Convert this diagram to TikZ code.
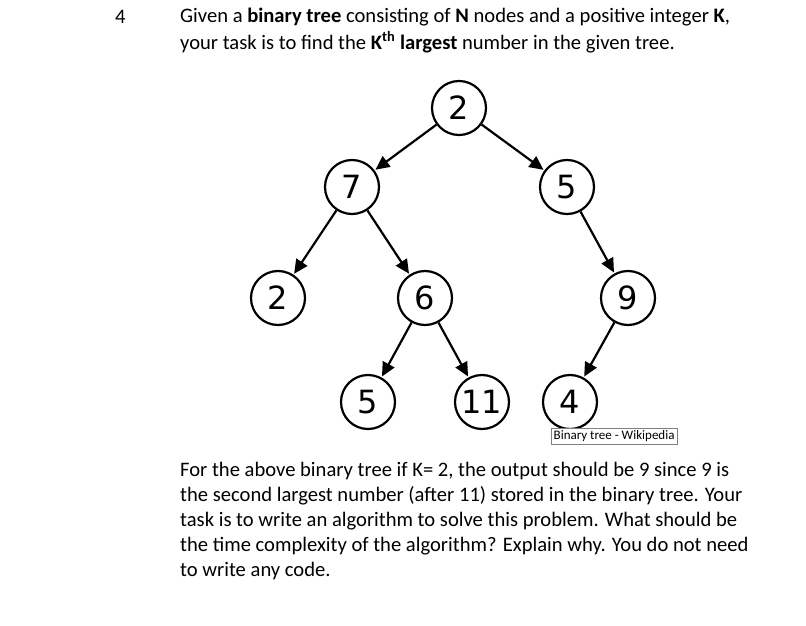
\documentclass[tikz,border=0pt]{standalone}
\usepackage{fontspec}
\setmainfont{Carlito}
\newfontfamily\treefont{DejaVu Sans}
\usetikzlibrary{arrows.meta}
\begin{document}
\begin{tikzpicture}[x=1pt,y=-1pt,
  tn/.style={circle,draw,line width=2.2pt,minimum size=54pt,inner sep=0pt,font=\treefont\fontsize{32}{32}\selectfont},
  ed/.style={line width=2.2pt,-{Triangle[length=14pt,width=13pt]},shorten >=1pt},
  tx/.style={anchor=west,inner sep=0pt,font=\fontsize{20.6}{20.6}\selectfont}]
\useasboundingbox (0,0) rectangle (806,626);
\node[tx] (num) at (115,17) {4};
\node[tx] (l1) at (180,17) {Given a \textbf{binary tree} consisting of \textbf{N} nodes and a positive integer \textbf{K},};
\node[tx] (l2) at (180,42) {your task is to find the \textbf{K\textsuperscript{th} largest} number in the given tree.};
\node[tn] (a) at (459,108) {2};
\node[tn] (b) at (352,187) {7};
\node[tn] (c) at (567,187) {5};
\node[tn] (d) at (278,298) {2};
\node[tn] (e) at (425,298) {6};
\node[tn] (f) at (628,298) {9};
\node[tn] (g) at (368,402) {5};
\node[tn] (h) at (482,402) {11};
\node[tn] (i) at (570,402) {4};
\draw[ed] (a) -- (b);
\draw[ed] (a) -- (c);
\draw[ed] (b) -- (d);
\draw[ed] (b) -- (e);
\draw[ed] (c) -- (f);
\draw[ed] (e) -- (g);
\draw[ed] (e) -- (h);
\draw[ed] (f) -- (i);
\node[draw=gray,fill=white,inner sep=2.5pt,anchor=north west,font=\fontsize{13}{13}\selectfont] (tip) at (551,428) {Binary tree - Wikipedia};
\node[tx] (p1) at (180,471) {For the above binary tree if K= 2, the output should be 9 since 9 is};
\node[tx] (p2) at (180,496) {the second largest number (after 11) stored in the binary tree. Your};
\node[tx] (p3) at (180,521) {task is to write an algorithm to solve this problem. What should be};
\node[tx] (p4) at (180,546) {the time complexity of the algorithm? Explain why. You do not need};
\node[tx] (p5) at (180,571) {to write any code.};
\end{tikzpicture}
\end{document}
